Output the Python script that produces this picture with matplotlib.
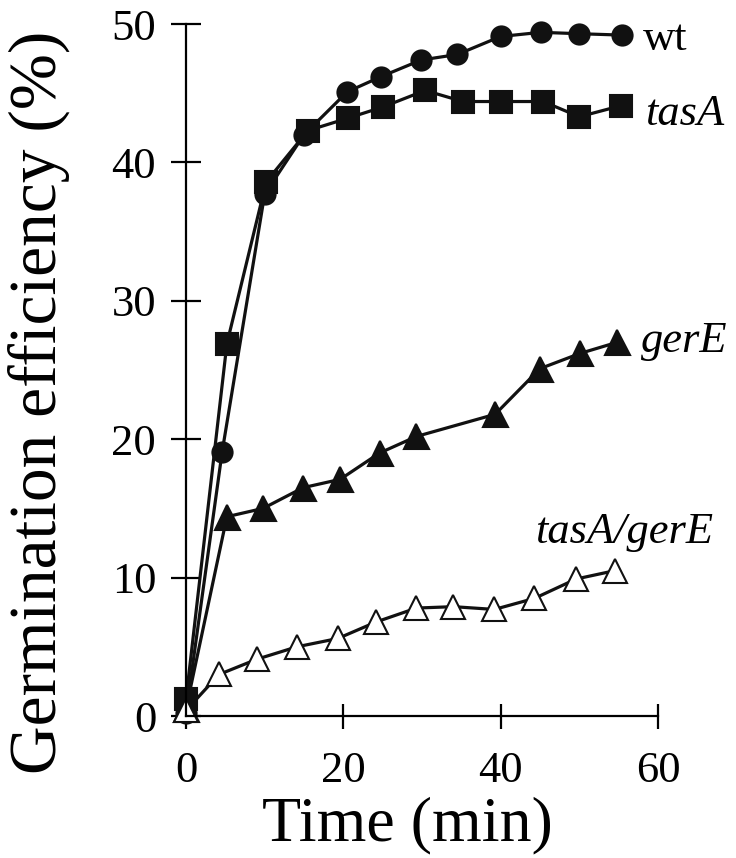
import matplotlib
matplotlib.use("Agg")
import matplotlib.pyplot as plt

# values
wt_t = [0, 4.6, 10, 15, 20.5, 24.8, 29.9, 34.5, 40, 45.1, 50, 55.4]
wt_y = [0.2, 19.1, 37.7, 42.0, 45.1, 46.2, 47.4, 47.8, 49.1, 49.4, 49.3, 49.2]

tasA_t = [0, 5.2, 10.2, 15.5, 20.6, 25, 30.4, 35.2, 40, 45.4, 50, 55.3]
tasA_y = [1.2, 26.9, 38.6, 42.3, 43.2, 44.0, 45.2, 44.4, 44.4, 44.4, 43.3, 44.1]

gerE_t = [0, 5.2, 9.8, 14.9, 19.6, 24.6, 29.3, 39.3, 45, 50.1, 54.8]
gerE_y = [0.5, 14.4, 15.0, 16.5, 17.1, 19.0, 20.2, 21.8, 25.1, 26.2, 27.0]

dbl_t = [0, 4.2, 9.0, 14.1, 19.3, 24.2, 29.3, 34.0, 39.2, 44.3, 49.6, 54.5]
dbl_y = [0.4, 3.0, 4.1, 5.0, 5.6, 6.8, 7.8, 7.9, 7.7, 8.5, 9.9, 10.5]

xticks = [0, 20, 40, 60]
yticks = [0, 10, 20, 30, 40, 50]

plt.rcParams['font.family'] = ['Liberation Serif', 'DejaVu Serif']

fig = plt.figure(figsize=(7.36, 8.58), dpi=100)
ax = fig.add_axes([0.2527, 0.1655, 0.6413, 0.8065])

ink = '#111111'
kw = dict(color=ink, lw=2.3, mew=1.5, clip_on=False)
ax.plot(wt_t, wt_y, marker='o', ms=14.5, mfc=ink, mec=ink, **kw)
ax.plot(tasA_t, tasA_y, marker='s', ms=16.5, mfc=ink, mec=ink, **kw)
ax.plot(gerE_t, gerE_y, marker='^', ms=18, mfc=ink, mec=ink, **kw)
ax.plot(dbl_t, dbl_y, marker='^', ms=17.5, mfc='white', mec=ink, **kw)

ax.text(58.1, 48.1, 'wt', fontsize=32, va='baseline', ha='left')
ax.text(58.3, 42.7, 'tasA', fontsize=32, style='italic', va='baseline', ha='left')
ax.text(57.8, 26.3, 'gerE', fontsize=32, style='italic', va='baseline', ha='left')
ax.text(44.4, 12.5, 'tasA/gerE', fontsize=32, style='italic', va='baseline', ha='left')

ax.set_xlim(0, 60)
ax.set_ylim(0, 50)
ax.set_xticks(xticks)
ax.set_yticks(yticks)
ax.spines['top'].set_visible(False)
ax.spines['right'].set_visible(False)
for s in ('left', 'bottom'):
    ax.spines[s].set_linewidth(1.6)
ax.tick_params(axis='y', direction='inout', length=21, width=1.6, labelsize=32, pad=11)
ax.tick_params(axis='x', direction='inout', length=18, width=1.6, labelsize=32, pad=16)

fig.text(0.052, 1 - 402 / 858, 'Germination efficiency (%)', rotation=90,
         fontsize=48.5, ha='center', va='center')
fig.text(407 / 736, 1 - 825 / 858, 'Time (min)', fontsize=46, ha='center', va='center')

fig.savefig('out.png', dpi=100)
